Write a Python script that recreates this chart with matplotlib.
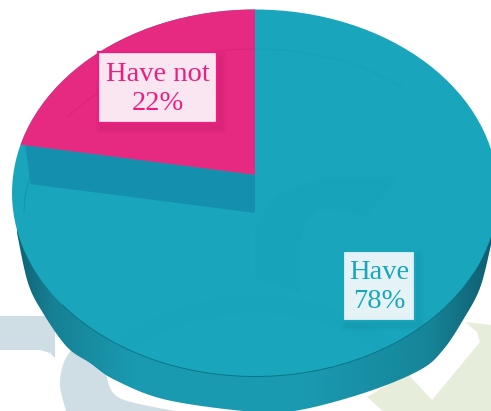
import numpy as np
import matplotlib
matplotlib.use("Agg")
import matplotlib.pyplot as plt
from matplotlib.colors import LinearSegmentedColormap
from matplotlib.patches import Ellipse, Polygon, Rectangle, Arc

categories = ["Have", "Have not"]
values = [78, 22]
labels = ["Have\n78%", "Have not\n22%"]

TEAL = "#19A6BC"
PINK = "#E62A82"
WALL = "#1490AE"
W, H = 491, 411
CX, CY_SLICE = 255, 175
RX, RY_SLICE = 243, 164
LIFT = 38

fig = plt.figure(figsize=(W / 100, H / 100), dpi=100, facecolor="white")


def layer(z):
    a = fig.add_axes([0, 0, 1, 1], zorder=z)
    a.set_xlim(0, W)
    a.set_ylim(H, 0)
    a.axis("off")
    a.patch.set_alpha(0)
    return a


def smooth(points, steps=12):
    """Catmull-Rom curve through an outline's control points."""
    p = np.array([points[0]] + list(points) + [points[-1]], dtype=float)
    out = []
    for i in range(1, len(p) - 2):
        for t in np.linspace(0, 1, steps, endpoint=False):
            out.append(0.5 * (2 * p[i] + (p[i + 1] - p[i - 1]) * t
                              + (2 * p[i - 1] - 5 * p[i] + 4 * p[i + 1] - p[i + 2]) * t ** 2
                              + (3 * p[i] - p[i - 1] - 3 * p[i + 1] + p[i + 2]) * t ** 3))
    out.append(p[-2])
    return np.array(out)


base = layer(1)

# Pale logo shapes behind the pie
base.add_patch(Polygon([(0, 316), (55, 316), (55, 358), (50, 353), (40, 350), (0, 350)],
                       fc="#CFDDE5", ec="none"))
base.add_patch(Polygon(smooth([(75, 345), (64, 362), (60, 385), (66, 411)]).tolist()
                       + [(175, 411)]
                       + smooth([(175, 411), (135, 403), (115, 395), (107, 378), (107, 360)]).tolist(),
                       fc="#CFDDE5", ec="none"))
base.add_patch(Polygon([(367, 397), (383, 411), (491, 411), (491, 325), (465, 322), (477, 332),
                        (480, 342), (432, 400), (407, 373)], fc="#E6EDDB", ec="none"))

# Shaded side of the disc
side_cmap = LinearSegmentedColormap.from_list(
    "side", [(0, "#0E5F70"), (0.08, "#167F94"), (0.25, "#1A9AB0"), (0.6, "#1A9BB2"),
             (0.87, "#178599"), (1, "#0F5F70")])
outline = smooth([(17, 233), (28, 283), (43, 313), (67, 347), (90, 363), (115, 380), (167, 400),
                  (255, 412), (300, 410), (367, 392), (420, 370), (443, 350), (463, 320),
                  (480, 288), (491, 245)])
side_shape = Polygon(np.vstack([outline, [(491, 200), (17, 200)]]), fc="none", ec="none")
base.add_patch(side_shape)
img = base.imshow(np.linspace(0, 1, 256)[None, :], extent=(12, 491, H, 200), aspect="auto",
                  cmap=side_cmap, zorder=2)
base.set_xlim(0, W)
base.set_ylim(H, 0)
img.set_clip_path(side_shape)

# Top surface of the disc
top = Ellipse((CX, 193), 2 * RX, 367, fc=TEAL, ec="none", zorder=3)
base.add_patch(top)
base.add_patch(Arc((CX, 193), 2 * RX, 367, theta1=20, theta2=150, ec="#0D7488", lw=0.7, zorder=3.2))

# Faint logo shapes showing through the surface
base.add_patch(Polygon([(255, 278), (255, 230), (275, 195), (320, 178), (400, 177), (365, 216),
                        (325, 208), (305, 220), (300, 245), (300, 292)],
                       fc="#0F92AE", ec="none", alpha=0.12, zorder=3.1))
base.add_patch(Arc((255, 390), 300, 170, theta1=190, theta2=350, ec="#1298B2",
                   lw=12, alpha=0.08, zorder=3.1))

# Raised slice, spanning the share of its value; the remaining share stays unfilled
pie_ax = fig.add_axes([0, 0, 1, 1], zorder=2)
wedges, _ = pie_ax.pie(values, colors=["none", PINK], startangle=90, counterclock=False,
                       radius=1.4, wedgeprops={"linewidth": 0})
pie_ax.set_aspect("auto")
pie_ax.set_xlim(-CX / RX, (W - CX) / RX)
pie_ax.set_ylim(-(H - CY_SLICE) / RY_SLICE, CY_SLICE / RY_SLICE)
pie_ax.axis("off")
clip = Ellipse((CX, 193), 2 * RX, 367, transform=base.transData)
for w in wedges:
    w.set_clip_on(True)
    w.set_clip_path(clip)

over = layer(3)
theta = np.deg2rad(90 + 360 * values[1] / sum(values))
dx, dy = RX * np.cos(theta), -RY_SLICE * np.sin(theta)

# Wall exposed under the raised slice
over.add_patch(Polygon([(CX, CY_SLICE), (CX + 0.963 * dx, CY_SLICE + 0.963 * dy),
                        (CX + 0.94 * dx, CY_SLICE + LIFT + 0.94 * dy), (CX, CY_SLICE + LIFT)],
                       fc=WALL, ec="none"))

# Outline of the lower disc showing through the surface
over.add_patch(Arc((CX, CY_SLICE + LIFT), 462, 2 * RY_SLICE, theta1=180, theta2=190,
                   ec="#1490AE", lw=0.6))
over.add_patch(Arc((CX, CY_SLICE + LIFT), 462, 2 * RY_SLICE, theta1=207, theta2=270,
                   ec="#D4247A", lw=0.6))
over.add_patch(Arc((CX, CY_SLICE + LIFT), 462, 2 * RY_SLICE, theta1=270, theta2=320,
                   ec="#179FB6", lw=0.6))

# Value labels in framed boxes with soft shadows
boxes = [
    (343, 251, 72, 70, "#E5F3F7", TEAL, "#0F8099", (379, 287)),
    (98, 52, 119, 71, "#F9E6F0", "#EC1E80", "#B01060", (158, 89)),
]
for (x, y, w, h, fc, ec, sh, xy), txt in zip(boxes, labels):
    for grow, a in [(6, 0.05), (4, 0.07), (2, 0.09)]:
        over.add_patch(Rectangle((x + 4 - grow, y + 5 - grow), w + 2 * grow, h + 2 * grow,
                                 fc=sh, ec="none", alpha=a))
    over.add_patch(Rectangle((x, y), w, h, fc=fc, ec=ec, lw=1.6))
    over.text(xy[0], xy[1], txt, color=ec, ha="center", va="center", fontsize=20.5,
              family="Liberation Serif", linespacing=1.25)

fig.savefig("out.png", dpi=100)
